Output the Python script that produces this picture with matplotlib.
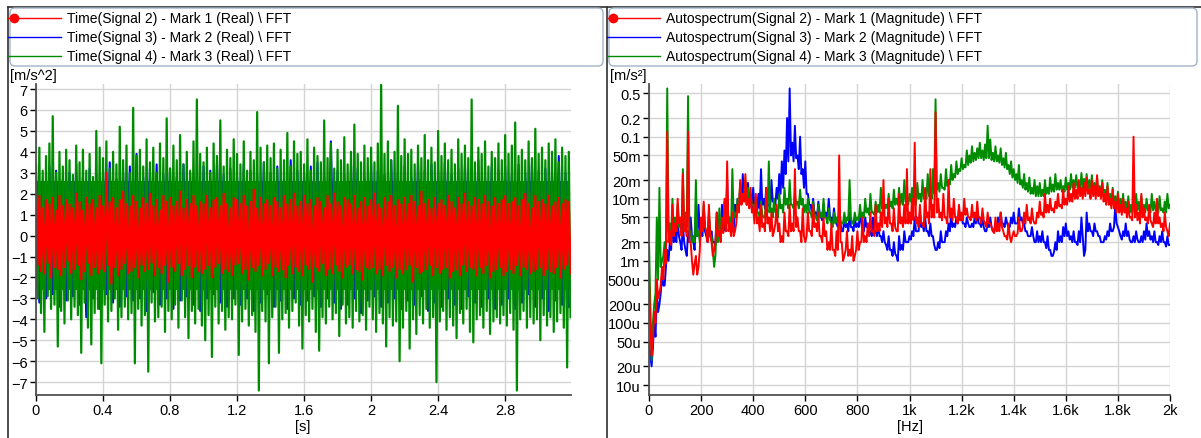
import numpy as np
import matplotlib
matplotlib.use('Agg')
import matplotlib.pyplot as plt
from matplotlib.patches import FancyBboxPatch
from matplotlib.ticker import NullLocator

plt.rcParams['font.family'] = ['Liberation Sans', 'DejaVu Sans']

# ---- time data [m/s^2], alternating peaks
time_step = 0.01       # s, red and green
time_step_blue = 0.02  # s, blue is mostly hidden behind green
sig2_time = [
    1.6, -1.4, 1.9, -1.7, 1.3, -1.8, 1.7, -1.3, 1.5, -2.0, 1.8, -1.5, 1.2, -1.6, 1.9, -1.9, 1.4, -1.5, 1.7, -1.2,
    1.5, -1.8, 1.3, -1.6, 2.0, -1.4, 1.6, -2.1, 1.2, -1.7, 1.8, -1.3, 1.5, -1.9, 1.7, -1.5, 1.3, -1.8, 1.9, -1.6,
    1.4, -1.7, 3.0, -1.4, 1.6, -2.3, 1.8, -1.5, 1.3, -1.9, 1.7, -1.6, 2.1, -1.3, 1.5, -1.8, 1.4, -1.7, 1.9, -1.5,
    1.6, -2.0, 1.3, -1.4, 1.8, -1.7, 1.5, -1.6, 2.0, -1.3, 1.4, -1.9, 1.7, -1.5, 1.2, -1.8, 1.9, -1.4, 1.6, -2.2,
    1.8, -1.5, 1.4, -1.7, 1.6, -1.3, 2.1, -1.9, 1.3, -1.6, 1.7, -1.4, 1.5, -2.0, 1.9, -1.5, 1.4, -1.7, 1.6, -1.8,
    1.5, -1.6, 1.9, -1.4, 1.3, -2.0, 1.7, -1.5, 1.8, -1.3, 1.4, -1.8, 2.0, -1.6, 1.5, -1.7, 1.3, -1.9, 1.8, -1.4,
    1.7, -1.3, 1.5, -1.8, 1.9, -1.6, 1.4, -2.1, 1.6, -1.5, 2.2, -1.7, 1.3, -1.4, 1.8, -1.9, 1.5, -1.6, 1.7, -1.3,
    1.4, -1.9, 1.8, -1.5, 1.6, -1.7, 1.3, -1.6, 1.9, -2.0, 1.5, -1.4, 1.7, -1.8, 2.0, -1.5, 1.4, -1.7, 1.6, -1.9,
    1.9, -1.4, 1.5, -1.6, 1.7, -2.2, 1.4, -1.5, 1.8, -1.7, 1.6, -1.3, 1.3, -1.9, 1.9, -1.6, 1.5, -1.8, 2.0, -1.4,
    1.6, -1.7, 1.4, -2.0, 1.8, -1.5, 1.7, -1.4, 1.5, -1.8, 1.9, -1.6, 1.3, -1.7, 1.6, -2.1, 1.8, -1.5, 1.4, -1.6,
    1.7, -1.5, 2.0, -1.8, 1.5, -1.6, 1.3, -1.9, 1.8, -1.4, 1.6, -1.7, 1.9, -1.5, 1.4, -2.0, 1.7, -1.6, 1.5, -1.8,
    1.8, -1.6, 1.5, -1.4, 1.9, -2.2, 1.6, -1.5, 1.4, -1.8, 2.1, -1.7, 1.5, -1.6, 1.7, -1.4, 1.3, -1.9, 1.8, -1.5,
    1.5, -1.8, 1.7, -1.6, 1.4, -1.5, 1.9, -2.0, 1.6, -1.7, 1.3, -1.6, 1.8, -1.9, 1.5, -1.4, 2.0, -1.7, 1.6, -1.5,
    1.4, -1.6, 1.8, -1.9, 1.7, -1.5, 1.5, -1.8, 1.9, -1.4, 1.6, -2.0, 1.4, -1.7, 1.8, -1.6, 1.5, -1.5, 1.7, -1.9,
    1.9, -1.7, 1.5, -1.6, 1.6, -1.8, 1.8, -1.4, 1.4, -1.9, 1.7, -1.5, 2.0, -1.6, 1.5, -1.8, 1.3, -1.7, 1.9, -1.6,
    1.6, -1.5, 1.7, -1.9, 1.5, -1.6, 1.9, -1.7, 1.4, -1.8, 1.6, -1.5, 1.8, -2.0, 1.5, -1.6, 1.7, -1.4, 1.6, -1.8]
sig3_time = [
    2.9, -3.2, 2.6, -3.0, 3.3, -2.8, 3.1, -3.4, 2.7, -3.1, 3.0, -2.9, 3.4, -3.3, 2.8, -3.9, 3.2, -3.0, 2.9, -3.5,
    3.1, -2.8, 3.5, -3.2, 2.7, -3.4, 3.0, -2.9, 3.3, -3.1, 3.9, -3.0, 2.8, -3.6, 3.2, -2.7, 3.4, -3.3, 2.9, -3.0,
    3.2, -3.5, 2.8, -3.1, 3.4, -2.9, 3.0, -3.3, 2.7, -3.6, 3.3, -3.0, 3.1, -2.8, 3.5, -3.2, 2.9, -3.4, 3.2, -3.0,
    2.8, -3.3, 3.4, -3.0, 3.1, -3.6, 2.9, -3.2, 3.5, -2.8, 3.0, -3.4, 3.3, -3.1, 2.7, -3.5, 3.6, -3.0, 3.1, -3.3,
    3.0, -3.1, 3.3, -2.9, 3.5, -3.4, 2.8, -3.0, 4.5, -3.2, 3.1, -3.5, 2.9, -3.3, 3.4, -3.0, 3.2, -3.7, 2.8, -3.1,
    3.4, -2.9, 3.1, -3.4, 2.9, -3.2, 3.6, -3.0, 3.0, -3.5, 3.3, -3.1, 2.8, -3.3, 3.5, -2.9, 3.1, -3.6, 3.4, -3.2,
    3.1, -3.4, 3.5, -3.0, 2.9, -3.3, 3.2, -3.5, 3.4, -2.9, 3.0, -3.2, 3.6, -3.4, 2.8, -3.0, 3.3, -3.5, 3.1, -3.3,
    3.3, -3.0, 2.9, -3.5, 3.4, -3.2, 3.0, -2.8, 3.5, -3.4, 3.1, -3.0, 3.2, -3.6, 2.9, -3.1, 3.8, -3.3, 3.0, -3.4]
sig4_time = [
    3.4, -3.0, 4.2, -3.7, 3.1, -4.6, 3.8, -2.9, 4.4, -3.5, 5.7, -3.3, 3.0, -5.3, 4.0, -3.6, 3.3, -4.2, 4.1, -3.1,
    3.6, -4.0, 2.9, -3.4, 4.3, -3.8, 3.5, -5.6, 4.1, -3.2, 3.1, -4.4, 3.9, -5.2, 2.8, -3.7, 5.0, -3.5, 4.2, -6.1,
    3.7, -3.3, 4.5, -4.1, 3.2, -3.6, 4.0, -3.0, 3.4, -4.5, 5.2, -3.9, 3.6, -3.4, 4.3, -4.0, 3.0, -3.7, 6.1, -6.1,
    3.8, -3.5, 4.1, -4.3, 3.3, -3.8, 4.6, -6.5, 3.5, -3.2, 4.2, -4.1, 3.0, -3.9, 4.4, -3.4, 3.7, -4.6, 5.6, -3.6,
    3.2, -4.0, 4.3, -3.3, 3.6, -4.4, 4.8, -3.1, 3.4, -3.9, 4.0, -4.9, 3.1, -3.6, 4.5, -4.2, 6.5, -3.5, 3.9, -4.3,
    3.5, -5.0, 4.2, -3.8, 3.0, -5.8, 4.4, -3.4, 3.8, -4.2, 5.5, -3.6, 3.3, -4.5, 4.1, -3.9, 3.7, -4.0, 4.6, -3.3,
    3.9, -5.7, 3.4, -4.1, 4.5, -3.5, 3.1, -4.3, 4.0, -3.8, 3.6, -4.6, 5.9, -7.4, 4.2, -3.6, 3.5, -4.1, 4.3, -6.1,
    3.7, -3.9, 4.4, -3.4, 3.2, -5.6, 4.1, -4.0, 3.6, -3.7, 4.9, -4.4, 3.3, -3.6, 4.5, -3.2, 3.9, -4.3, 4.0, -5.4,
    3.4, -3.8, 4.6, -4.1, 3.1, -3.5, 4.2, -4.6, 3.8, -5.5, 3.5, -3.9, 5.5, -4.2, 3.7, -3.4, 4.4, -4.0, 3.2, -3.7,
    4.1, -4.8, 3.6, -3.3, 4.7, -4.2, 3.4, -3.9, 4.0, -4.4, 5.3, -3.6, 3.9, -4.1, 3.5, -3.8, 4.3, -4.5, 3.7, -3.4,
    4.2, -4.0, 3.5, -4.6, 4.4, -3.7, 7.2, -4.2, 3.9, -5.3, 4.5, -3.9, 3.6, -4.3, 4.0, -4.1, 6.2, -6.0, 3.8, -4.4,
    4.6, -3.6, 3.9, -5.4, 4.1, -4.0, 3.4, -4.7, 4.3, -3.8, 3.7, -4.2, 4.8, -3.5, 3.6, -4.4, 4.2, -3.9, 3.5, -7.0,
    5.0, -4.1, 3.8, -3.6, 4.4, -4.5, 3.6, -3.9, 4.1, -4.3, 3.4, -4.9, 4.6, -3.7, 3.9, -4.2, 4.3, -3.5, 3.7, -4.6,
    6.5, -5.1, 3.5, -4.0, 4.2, -3.8, 3.9, -4.4, 4.5, -3.6, 3.3, -4.7, 4.0, -4.1, 3.7, -3.9, 4.4, -4.2, 3.6, -3.8,
    4.8, -4.3, 3.9, -3.7, 4.3, -4.5, 5.4, -7.4, 3.8, -4.0, 4.1, -3.6, 3.6, -4.4, 4.5, -3.9, 3.7, -4.2, 5.1, -4.0,
    3.9, -5.0, 4.2, -3.8, 3.6, -4.3, 4.4, -3.9, 4.0, -4.6, 4.6, -4.1, 3.5, -3.7, 4.2, -4.4, 3.8, -6.3, 4.0, -3.9]
# half width of the solid part of each noise band
band_sig2 = 1.35
band_sig34 = 2.6

# ---- autospectra, one value every 5 Hz (0..2000 Hz), in milli m/s^2
spec_step = 5
sig2_spec_m = [
    0.5, 0.1, 0.03, 0.05, 0.15, 0.1, 0.5, 0.25, 0.3, 0.4, 0.8, 0.5, 1.5, 0.9, 120, 2, 3, 1.8, 8, 2.5,
    4, 3, 10, 4, 5, 2.5, 25, 3, 4, 2.5, 120, 2, 2, 1, 0.6, 0.9, 1.2, 0.6, 0.8, 1.5,
    5, 3, 9, 3.5, 3, 2, 8, 2.5, 2, 1.2, 1.5, 2, 6, 2.5, 3, 2, 5, 2.8, 10, 3,
    40, 3, 4, 2.5, 6, 2.5, 3, 4, 8, 6, 20, 8, 12, 9, 25, 8, 10, 7, 15, 6,
    7, 4, 12, 4, 5, 3, 8, 3.5, 4, 3, 15, 4, 5, 3, 6, 2.5, 3, 4, 8, 3,
    4, 2, 2.5, 2, 6, 3, 3, 2.5, 8, 3, 4, 3, 30, 3.5, 5, 3, 3, 2, 7, 2.5,
    2, 2.5, 6, 3, 3, 2.5, 8, 3.5, 4, 3, 6, 2.5, 2.5, 2, 5, 2.5, 3, 1.5, 2, 1.5,
    4, 1.5, 1.5, 1.2, 3, 1.5, 50, 2, 2, 1, 1.2, 1.5, 3, 1.2, 1.5, 1.2, 2.5, 1, 1.2, 1.5,
    3, 1.5, 2, 2, 5, 2, 2.5, 2, 4, 2.5, 6, 3, 3, 2.5, 8, 3, 4, 3, 6, 3.5,
    20, 4, 5, 3.5, 10, 4, 4, 3, 7, 3.5, 3, 3, 12, 4, 5, 3.5, 8, 4, 30, 4,
    6, 4, 10, 4.5, 80, 4, 5, 3.5, 8, 4, 4, 3.5, 15, 5, 6, 4, 30, 5, 8, 5,
    250, 6, 10, 5, 6, 4.5, 12, 5, 5, 4, 20, 5, 7, 4.5, 10, 5, 5, 4, 8, 4.5,
    6, 4.5, 10, 5.5, 7, 5, 5, 4.5, 8, 5, 6, 4.5, 9, 5, 5, 4, 7, 4.5, 4, 3.5,
    6, 4, 4, 3.5, 3, 2.8, 5, 3, 4, 3, 6, 3.5, 3, 2.5, 2.5, 2.2, 4, 2.5, 2, 2.5,
    3, 2.5, 2.5, 2.8, 5, 3, 3, 3.5, 6, 4, 8, 4.5, 5, 4, 7, 4.5, 4, 4, 6, 5,
    9, 5.5, 6, 5, 12, 6, 8, 6, 10, 6.5, 7, 6, 9, 7, 12, 7.5, 8, 7, 14, 8,
    10, 8, 16, 9, 12, 9, 18, 10, 14, 10, 20, 11, 15, 10, 18, 11, 22, 12, 14, 10,
    20, 11, 16, 10, 24, 11, 15, 10, 18, 9, 12, 8, 16, 8, 10, 7, 14, 7, 9, 6,
    12, 6, 8, 5.5, 10, 6, 7, 5, 9, 5, 5, 4.5, 100, 5, 8, 4.5, 6, 4, 12, 5,
    7, 4.5, 5, 4, 8, 4.5, 4, 3.5, 6, 4, 10, 4, 5, 3.5, 4, 3, 6, 3.5, 3, 2.5,
    4]
sig3_spec_m = [
    0.05, 0.03, 0.02, 0.04, 0.1, 0.06, 0.3, 0.15, 0.2, 0.3, 0.6, 0.4, 0.4, 0.8, 1.5, 1, 2, 1.5, 6, 2,
    3, 2, 5, 2.5, 2, 1.5, 4, 2, 1.5, 1.2, 3, 2, 5, 2.5, 2, 1.5, 4, 2.5, 8, 3,
    3, 2.5, 6, 3, 2.5, 2, 5, 2.5, 3, 2, 2, 1.8, 6, 2.5, 3, 2.5, 8, 3, 4, 3,
    20, 4, 5, 3, 3, 3, 8, 5, 10, 7, 15, 9, 25, 10, 12, 8, 18, 9, 10, 7,
    15, 7, 8, 6, 12, 7, 30, 8, 10, 7, 15, 8, 8, 7, 20, 9, 10, 8, 15, 10,
    25, 12, 40, 15, 60, 25, 200, 40, 600, 50, 80, 40, 150, 45, 50, 30, 100, 25, 30, 15,
    40, 12, 12, 8, 8, 6, 10, 6, 6, 5, 9, 6, 5, 4.5, 8, 5, 6, 5, 10, 5,
    5, 4, 7, 4.5, 4, 3.5, 6, 4, 3, 3, 5, 3.5, 4, 3, 6, 3.5, 3.5, 3, 5, 3.5,
    4, 3.5, 6, 4, 3, 3, 5, 3.5, 4, 3, 3, 2.5, 5, 3, 3, 2.5, 4, 2.5, 2.5, 2,
    3, 2, 1.8, 1.5, 2.5, 1.5, 1.5, 1.2, 2, 1.3, 1.2, 1, 2.5, 1.5, 1.8, 1.5, 3, 2, 2, 2,
    2.5, 2.2, 3, 2.5, 5, 3, 3, 3, 6, 3.5, 4, 3, 5, 3, 3, 2.5, 4, 2.5, 2.5, 1.8,
    1.5, 1.5, 2, 1.6, 3, 2, 2, 2, 3, 2.5, 4, 3, 6, 3.5, 4, 3.5, 5, 4, 7, 4.5,
    5, 4, 4, 3.5, 5, 4, 3.5, 3.5, 4, 3.5, 5, 4, 6, 4, 4, 3.5, 5, 3.5, 3, 3,
    4, 3.5, 5, 3.5, 3, 3, 4, 3, 5, 3.5, 6, 4, 4, 3.5, 5, 4, 3.5, 3.5, 5, 4,
    6, 4, 4, 4, 7, 4.5, 5, 4, 4, 3, 3, 2.5, 2.5, 2.5, 3.5, 2.5, 2, 2, 3, 2,
    2.5, 2, 3, 2, 2, 1.6, 2.5, 1.5, 1.5, 1.2, 1.2, 1.4, 2, 1.5, 3, 2, 2.5, 2, 3.5, 2.5,
    4, 2.5, 3, 2.2, 2.5, 2, 3, 2, 2, 1.8, 3, 2, 5, 2.5, 1.2, 1.5, 6, 3, 4, 3,
    3, 2.5, 4, 3, 3, 2.5, 2.5, 2, 2, 2, 2.5, 2.2, 3, 2.5, 4, 3, 3, 3.5, 8, 4,
    3.5, 3, 2.5, 2.2, 3, 2.5, 4, 2.5, 3, 2.2, 2, 2, 2.5, 2, 3, 2.2, 2, 2, 2.5, 2,
    3, 2.2, 4, 2.5, 3, 2.2, 2.5, 2, 3, 2, 2, 1.8, 2.5, 2, 3, 2, 2, 1.7, 2.5, 1.8,
    1.8]
sig4_spec_m = [
    2, 0.2, 0.025, 0.1, 0.2, 0.3, 5, 0.5, 15, 0.8, 1, 1.2, 2, 1.5, 600, 3, 4, 2.5, 10, 3,
    5, 3, 8, 3.5, 4, 3, 30, 4, 6, 3.5, 450, 3, 3, 2, 2.5, 2, 20, 2.5, 3, 2,
    4, 3, 8, 3.5, 3, 2.5, 6, 2.5, 2.5, 1.5, 0.8, 1.2, 4, 2, 7, 3, 3, 3, 9, 3.5,
    8, 4, 5, 3.5, 30, 5, 6, 5, 10, 7, 18, 9, 12, 9, 20, 10, 15, 9, 12, 8,
    8, 6, 10, 6, 6, 5, 9, 5.5, 5, 5, 12, 6, 40, 6, 7, 5, 10, 6, 6, 5,
    12, 7, 8, 6, 15, 8, 10, 7, 20, 8, 8, 7, 12, 8, 9, 7, 14, 8, 10, 6,
    8, 6, 10, 6, 6, 5, 9, 5.5, 5, 4.5, 8, 5, 6, 5, 10, 5, 5, 4, 7, 4.5,
    4, 3.5, 6, 4, 5, 4, 7, 4.5, 4, 4, 6, 4, 5, 4.5, 20, 5, 4, 4, 6, 4.5,
    5, 4.5, 8, 5, 6, 5, 10, 6, 7, 5.5, 12, 6, 6, 5.5, 9, 6, 8, 6, 15, 7,
    10, 7, 8, 7, 12, 7.5, 9, 7, 14, 8, 10, 8, 15, 8, 12, 8, 20, 9, 10, 8,
    12, 9, 15, 9, 10, 8, 18, 10, 12, 9, 20, 10, 14, 10, 25, 11, 15, 10, 30, 12,
    400, 14, 18, 13, 25, 15, 15, 14, 30, 16, 20, 17, 35, 20, 25, 22, 40, 25, 30, 28,
    45, 30, 35, 32, 60, 35, 50, 38, 70, 40, 55, 42, 65, 45, 80, 45, 60, 42, 75, 45,
    150, 45, 90, 42, 55, 40, 70, 40, 50, 38, 65, 35, 45, 32, 55, 30, 35, 25, 40, 22,
    30, 20, 25, 18, 35, 17, 20, 15, 25, 14, 18, 13, 22, 12, 15, 12, 20, 11, 16, 11,
    18, 11, 14, 11, 20, 12, 15, 12, 22, 13, 17, 13, 25, 14, 18, 14, 20, 13, 16, 13,
    22, 14, 18, 14, 25, 15, 20, 15, 24, 15, 19, 14, 26, 15, 21, 14, 25, 14, 20, 13,
    24, 13, 18, 12, 22, 12, 16, 11, 20, 11, 14, 10, 18, 9, 12, 8, 15, 8, 11, 7,
    13, 7, 10, 7, 12, 6.5, 9, 6, 11, 6, 8, 6, 10, 6, 12, 6.5, 9, 6, 11, 6.5,
    8, 6, 10, 6.5, 7, 6, 12, 6.5, 9, 6.5, 8, 6, 11, 6.5, 7, 6, 9, 6, 12, 7,
    8]

time_labels = ['Time(Signal 2) - Mark 1 (Real) \\ FFT',
               'Time(Signal 3) - Mark 2 (Real) \\ FFT',
               'Time(Signal 4) - Mark 3 (Real) \\ FFT']
spec_labels = ['Autospectrum(Signal 2) - Mark 1 (Magnitude) \\ FFT',
               'Autospectrum(Signal 3) - Mark 2 (Magnitude) \\ FFT',
               'Autospectrum(Signal 4) - Mark 3 (Magnitude) \\ FFT']
time_xticks = [0, 0.4, 0.8, 1.2, 1.6, 2, 2.4, 2.8]
spec_xticks = [0, 200, 400, 600, 800, 1000, 1200, 1400, 1600, 1800, 2000]
spec_xlabels = ['0', '200', '400', '600', '800', '1k', '1.2k', '1.4k', '1.6k', '1.8k', '2k']
spec_yticks = [0.5, 0.2, 0.1, 0.05, 0.02, 0.01, 0.005, 0.002, 0.001,
               5e-4, 2e-4, 1e-4, 5e-5, 2e-5, 1e-5]
spec_ylabels = ['0.5', '0.2', '0.1', '50m', '20m', '10m', '5m', '2m', '1m',
                '500u', '200u', '100u', '50u', '20u', '10u']

RED, BLUE, GREEN = '#ff0000', '#0000ff', '#008c00'
GRID = '#d4d4d4'
AXC = '#505050'
W, H = 1201, 439

fig = plt.figure(figsize=(W / 100, H / 100), dpi=100)


def frac(x0, y0, x1, y1):
    # pixel box (from top-left) -> figure rect
    return [x0 / W, 1 - y1 / H, (x1 - x0) / W, (y1 - y0) / H]


ax1 = fig.add_axes(frac(36, 85, 571, 395.7))
ax2 = fig.add_axes(frac(649, 85, 1170, 395.7))

# time panel
t2 = np.arange(len(sig2_time)) * time_step
t3 = np.arange(len(sig3_time)) * time_step_blue
t4 = np.arange(len(sig4_time)) * time_step
ax1.fill_between(t3, -band_sig34, band_sig34, color=BLUE, lw=0)
ax1.plot(t3, sig3_time, color=BLUE, lw=1.5)
ax1.fill_between(t4, -band_sig34, band_sig34, color=GREEN, lw=0)
ax1.plot(t4, sig4_time, color=GREEN, lw=1.6)
ax1.fill_between(t2, -band_sig2, band_sig2, color=RED, lw=0)
ax1.plot(t2, sig2_time, color=RED, lw=1.6)
ax1.set_xlim(0, 3.193)
ax1.set_ylim(-7.6, 7.24)
ax1.set_xticks(time_xticks)
ax1.set_xticklabels([('%g' % v) for v in time_xticks])
ax1.set_yticks(range(-7, 8))

# spectrum panel
for vals, c in [(sig3_spec_m, BLUE), (sig4_spec_m, GREEN), (sig2_spec_m, RED)]:
    f = np.arange(len(vals)) * spec_step
    ax2.plot(f, np.array(vals) * 1e-3, color=c, lw=1.4)
ax2.set_yscale('log')
ax2.set_xlim(0, 2000)
ax2.set_ylim(6.98e-6, 0.706)
ax2.set_xticks(spec_xticks)
ax2.set_xticklabels(spec_xlabels)
ax2.set_yticks(spec_yticks)
ax2.set_yticklabels(spec_ylabels)
ax2.yaxis.set_minor_locator(NullLocator())

for ax in (ax1, ax2):
    ax.grid(True, color=GRID, lw=1)
    ax.set_axisbelow(True)
    for s in ('top', 'right'):
        ax.spines[s].set_visible(False)
    for s in ('left', 'bottom'):
        ax.spines[s].set_color(AXC)
        ax.spines[s].set_linewidth(1.3)
    ax.tick_params(direction='out', length=4, width=1, color='#000000',
                   labelsize=10.5, pad=2, labelcolor='#000000')

# frame and legends, drawn in pixel coordinates
over = fig.add_axes([0, 0, 1, 1], zorder=-1)
over.set_xlim(0, W)
over.set_ylim(H, 0)
over.axis('off')
over.plot([8, W], [7.5, 7.5], color='#303030', lw=1.2)
over.plot([8, 8], [7.5, H], color='#303030', lw=1.2)
over.plot([607, 607], [7.5, H], color='#303030', lw=1.2)

leg = fig.add_axes([0, 0, 1, 1], zorder=5)
leg.set_xlim(0, W)
leg.set_ylim(H, 0)
leg.axis('off')
for x0, x1, labels in [(10, 603, time_labels), (609, 1197, spec_labels)]:
    leg.add_patch(FancyBboxPatch((x0, 9), x1 - x0, 58,
                                 boxstyle='round,pad=0,rounding_size=5',
                                 fc='white', ec='#9fb4c9', lw=1))
    for i, (lab, c) in enumerate(zip(labels, [RED, BLUE, GREEN])):
        y = 19 + i * 19
        leg.plot([x0 - 2, x0 + 51], [y, y], color=c, lw=1)
        if i == 0:
            leg.plot([x0 + 4], [y], 'o', color=c, ms=6)
        leg.text(x0 + 57, y, lab, va='center', ha='left', fontsize=10)

fig.text(10 / W, 1 - 76 / H, '[m/s^2]', fontsize=10.5, va='center')
fig.text(610 / W, 1 - 76 / H, '[m/s\u00b2]', fontsize=10.5, va='center')
fig.text(303 / W, 1 - 427 / H, '[s]', fontsize=10.5, va='center', ha='center')
fig.text(910 / W, 1 - 427 / H, '[Hz]', fontsize=10.5, va='center', ha='center')

fig.savefig('out.png', dpi=100)
